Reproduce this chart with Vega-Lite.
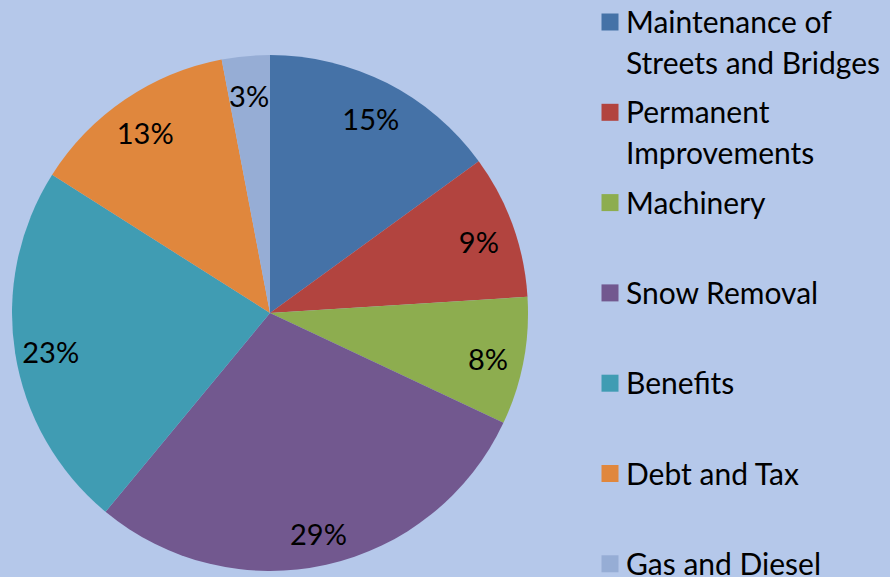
{
  "$schema": "https://vega.github.io/schema/vega-lite/v6.json",
  "width": 516,
  "height": 516,
  "autosize": {"type": "none"},
  "padding": {"left": 12, "top": 55, "right": 362, "bottom": 6},
  "background": "#b5c8ea",
  "data": {
    "values": [
      {"category": "Maintenance of Streets and Bridges", "value": 15, "label": "15%", "order": 1},
      {"category": "Permanent Improvements", "value": 9, "label": "9%", "order": 2},
      {"category": "Machinery", "value": 8, "label": "8%", "order": 3},
      {"category": "Snow Removal", "value": 29, "label": "29%", "order": 4},
      {"category": "Benefits", "value": 23, "label": "23%", "order": 5},
      {"category": "Debt and Tax", "value": 13, "label": "13%", "order": 6},
      {"category": "Gas and Diesel", "value": 3, "label": "3%", "order": 7}
    ]
  },
  "encoding": {
    "theta": {"field": "value", "type": "quantitative", "stack": true},
    "order": {"field": "order", "type": "quantitative"}
  },
  "layer": [
    {
      "mark": {"type": "arc"},
      "encoding": {
        "color": {
          "field": "category",
          "type": "nominal",
          "sort": ["Maintenance of Streets and Bridges", "Permanent Improvements", "Machinery", "Snow Removal", "Benefits", "Debt and Tax", "Gas and Diesel"],
          "scale": {
            "domain": ["Maintenance of Streets and Bridges", "Permanent Improvements", "Machinery", "Snow Removal", "Benefits", "Debt and Tax", "Gas and Diesel"],
            "range": ["#4572a7", "#b2443f", "#8dad4f", "#72588f", "#409cb3", "#e0873d", "#96add5"]
          },
          "legend": {
            "title": null,
            "orient": "none",
            "legendX": 583,
            "legendY": -48,
            "symbolType": "square",
            "symbolSize": 289,
            "symbolStrokeWidth": 0,
            "labelFont": "Lato",
            "labelFontSize": 30,
            "labelColor": "#000000",
            "labelLimit": 0,
            "labelOffset": 1,
            "labelBaseline": "top",
            "rowPadding": 17.3,
            "labelExpr": "datum.label == 'Maintenance of Streets and Bridges' ? ['Maintenance of', 'Streets and Bridges'] : datum.label == 'Permanent Improvements' ? ['Permanent', 'Improvements'] : [datum.label, ' ']"
          }
        }
      }
    },
    {
      "mark": {"type": "text", "radius": 222, "font": "Lato", "fontSize": 29, "color": "#000000", "dy": 6},
      "encoding": {
        "text": {"field": "label", "type": "nominal"},
        "theta": {"field": "value", "type": "quantitative", "stack": true}
      }
    }
  ],
  "config": {
    "view": {"stroke": null},
    "style": {"guide-label": {"lineHeight": 41, "dy": -13}}
  }
}
